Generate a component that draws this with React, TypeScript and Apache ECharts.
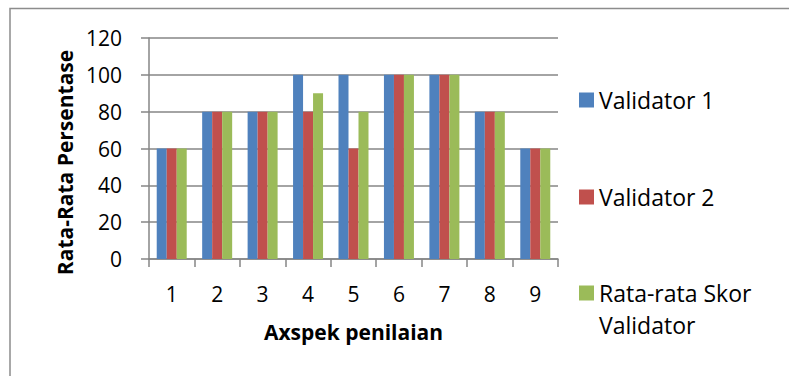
import React, { useEffect, useRef } from "react";
import * as echarts from "echarts";

const categories = ["1", "2", "3", "4", "5", "6", "7", "8", "9"];
const validator1 = [60, 80, 80, 100, 100, 100, 100, 80, 60];
const validator2 = [60, 80, 80, 80, 60, 100, 100, 80, 60];
const rataRata = [60, 80, 80, 90, 80, 100, 100, 80, 60];
const seriesNames = ["Validator 1", "Validator 2", "Rata-rata Skor Validator"];
const colors = ["#4F81BD", "#C0504D", "#9BBB59"];

const FONT = "'Open Sans', 'Noto Sans', sans-serif";

export default function App() {
  const ref = useRef<HTMLDivElement>(null);
  useEffect(() => {
    if (!ref.current) return;
    const chart = echarts.init(ref.current, null, { renderer: "svg" });
    const legendText = { fontFamily: FONT, fontSize: 23, color: "#000", lineHeight: 32 };
    const legendBase = {
      left: 579,
      itemWidth: 15,
      itemHeight: 15,
      itemGap: 0,
      padding: 0,
      icon: "rect",
      textStyle: legendText,
    };
    chart.setOption({
      animation: false,
      backgroundColor: "#fff",
      graphic: [
        {
          type: "rect",
          shape: { x: 10, y: 8.5, width: 900, height: 500 },
          style: { fill: "none", stroke: "#8c8c8c", lineWidth: 1.5 },
          silent: true,
          z: -10,
        },
      ],
      grid: { left: 149, top: 38, right: 231, bottom: 117, containLabel: false },
      legend: [
        { ...legendBase, data: [seriesNames[0]], top: 84 },
        { ...legendBase, data: [seriesNames[1]], top: 181 },
        {
          ...legendBase,
          data: [seriesNames[2]],
          top: 245,
          formatter: () => " \nRata-rata Skor\nValidator",
        },
      ],
      xAxis: {
        type: "category",
        data: categories,
        name: "Axspek penilaian",
        nameLocation: "middle",
        nameGap: 62,
        nameTextStyle: { fontFamily: FONT, fontSize: 21, fontWeight: "bold", color: "#000" },
        axisLine: { lineStyle: { color: "#868686", width: 1.5 } },
        axisTick: { show: true, length: 8, lineStyle: { color: "#868686", width: 1.5 } },
        axisLabel: { fontFamily: FONT, fontSize: 21, color: "#000", margin: 24 },
      },
      yAxis: {
        type: "value",
        min: 0,
        max: 120,
        interval: 20,
        name: "Rata-Rata Persentase",
        nameLocation: "middle",
        nameGap: 73,
        nameTextStyle: {
          fontFamily: FONT,
          fontSize: 21,
          fontWeight: "bold",
          color: "#000",
          padding: [0, 28, 0, 0],
        },
        axisLine: { show: true, lineStyle: { color: "#868686", width: 1.5 } },
        axisTick: { show: true, length: 8, lineStyle: { color: "#868686", width: 1.5 } },
        axisLabel: { fontFamily: FONT, fontSize: 21, color: "#000", margin: 27 },
        splitLine: { show: true, lineStyle: { color: "#868686", width: 1.5 } },
      },
      series: [validator1, validator2, rataRata].map((d, i) => ({
        name: seriesNames[i],
        type: "bar",
        data: d,
        barGap: "0%",
        barCategoryGap: "34%",
        itemStyle: { color: colors[i] },
      })),
    });
    return () => chart.dispose();
  }, []);
  return (
    <div
      ref={ref}
      style={{ position: "fixed", left: 0, top: 0, width: 789, height: 376 }}
    />
  );
}
